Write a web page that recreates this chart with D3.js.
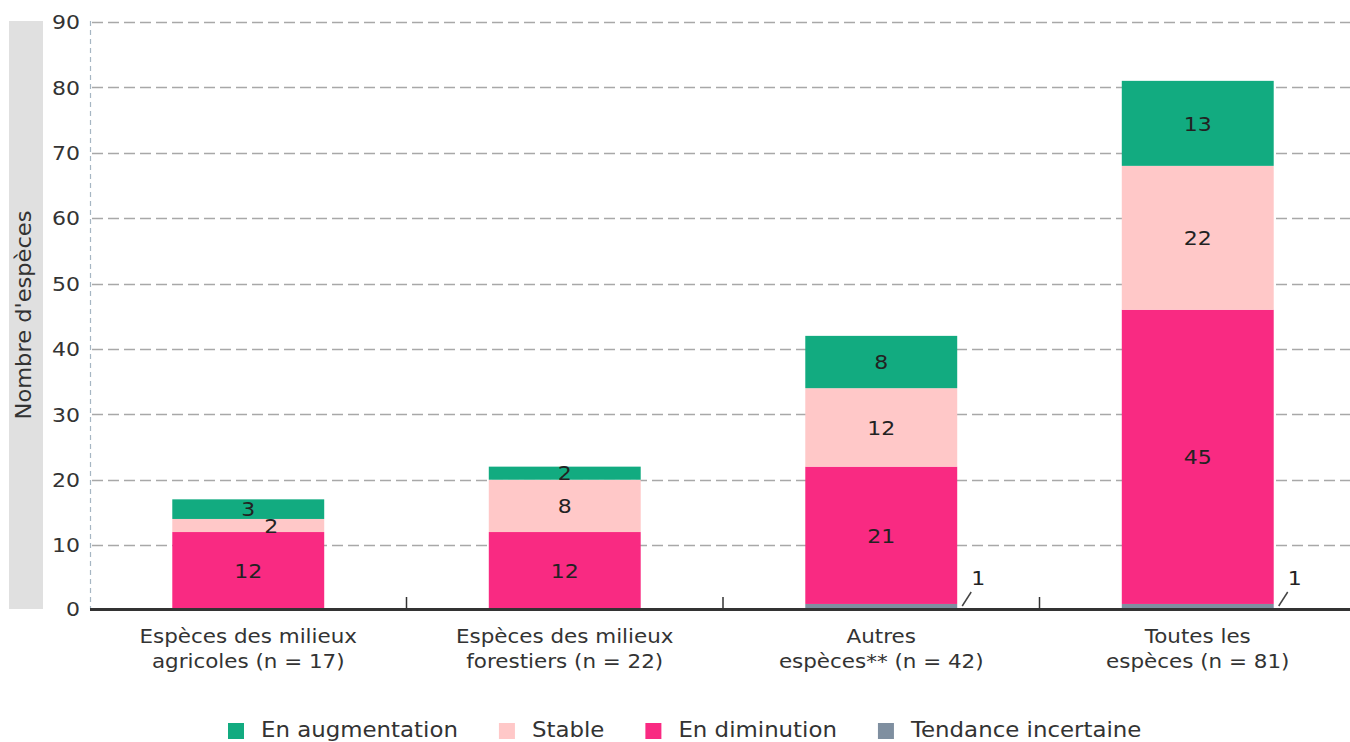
<!DOCTYPE html>
<html>
<head>
<meta charset="utf-8">
<script src="https://cdn.jsdelivr.net/npm/d3@7"></script>
<style>
  body { margin: 0; background: #fff; }
  text { font-family: "DejaVu Sans", sans-serif; }
</style>
</head>
<body>
<script>
// categories and series
var categories = [
  ["Espèces des milieux", "agricoles (n = 17)"],
  ["Espèces des milieux", "forestiers (n = 22)"],
  ["Autres", "espèces** (n = 42)"],
  ["Toutes les", "espèces (n = 81)"]
];
var incertaine = [0, 0, 1, 1];
var diminution = [12, 12, 21, 45];
var stable = [2, 8, 12, 22];
var augmentation = [3, 2, 8, 13];
var yTicks = [0, 10, 20, 30, 40, 50, 60, 70, 80, 90];

var series = [
  { name: "Tendance incertaine", values: incertaine, color: "#7f8fa0" },
  { name: "En diminution", values: diminution, color: "#f92a82" },
  { name: "Stable", values: stable, color: "#ffc8c8" },
  { name: "En augmentation", values: augmentation, color: "#12ab80" }
];
var legendOrder = ["En augmentation", "Stable", "En diminution", "Tendance incertaine"];

var W = 1350, H = 742;
var SX = 1.1; // glyphs in the original are a bit wider
var svg = d3.select("body").append("svg")
    .attr("width", W)
    .attr("height", H);

// text helper: stretched horizontally around its anchor
function label(parent, x, y, str, size, anchor, rot) {
  var g = parent.append("g")
      .attr("transform", "translate(" + x + "," + y + ")" + (rot ? " rotate(" + rot + ")" : "") + " scale(" + SX + ",1)");
  var t = g.append("text")
      .attr("text-anchor", anchor || "middle")
      .attr("font-size", size)
      .attr("fill", "#333")
      .text(str);
  return t;
}

var keys = categories.map(function (d, i) { return "c" + i; });

var x = d3.scaleBand()
    .domain(keys)
    .range([90, 1356])
    .paddingInner(0.52)
    .paddingOuter(0.26);

var y = d3.scaleLinear()
    .domain([0, 90])
    .range([610.5, 22]);

// grey band behind the y title
svg.append("rect")
    .attr("x", 9).attr("y", 21)
    .attr("width", 34).attr("height", 588)
    .attr("fill", "#e0e0e0");

label(svg, 24, 315, "Nombre d'espèces", 20.5, "middle", -90).attr("dy", "0.36em");

// grid lines
svg.append("g").selectAll("line")
    .data(yTicks.filter(function (d) { return d > 0; }))
    .enter().append("line")
    .attr("x1", 92).attr("x2", W)
    .attr("y1", function (d) { return Math.round(y(d)) + 0.5; })
    .attr("y2", function (d) { return Math.round(y(d)) + 0.5; })
    .attr("stroke", "#a8a8a8")
    .attr("stroke-width", 1.5)
    .attr("stroke-dasharray", "11,5");

// y axis: dashed line + labels
svg.append("line")
    .attr("x1", 90.5).attr("x2", 90.5)
    .attr("y1", 21).attr("y2", 609)
    .attr("stroke", "#a6b6c3")
    .attr("stroke-width", 1.2)
    .attr("stroke-dasharray", "5,4");

yTicks.forEach(function (v) {
  label(svg, 80, Math.min(y(v), 609), v, 20, "end").attr("dy", "0.36em");
});

// stacked bars
var stackData = keys.map(function (k, i) {
  var o = { key: k };
  series.forEach(function (s) { o[s.name] = s.values[i]; });
  return o;
});
var stack = d3.stack().keys(series.map(function (s) { return s.name; }));
var layers = stack(stackData);

var layerG = svg.append("g").selectAll("g")
    .data(layers)
    .enter().append("g")
    .attr("fill", function (d, i) { return series[i].color; });

layerG.selectAll("rect")
    .data(function (d) { return d; })
    .enter().append("rect")
    .attr("x", function (d) { return x(d.data.key); })
    .attr("width", x.bandwidth())
    .attr("y", function (d) { return y(d[1]); })
    .attr("height", function (d) { return y(d[0]) - y(d[1]); });

// value labels inside segments (skip the uncertain layer)
layers.forEach(function (layer, li) {
  if (li === 0) return;
  layer.forEach(function (d, i) {
    var v = d[1] - d[0];
    if (v <= 0) return;
    var h = y(d[0]) - y(d[1]);
    var next = layers[li + 1] ? layers[li + 1][i] : null;
    var nextH = next ? y(next[0]) - y(next[1]) : 0;
    var dx = (h < 15 && nextH > 0 && nextH < 25) ? 23 : 0;
    label(svg, x(d.data.key) + x.bandwidth() / 2 + dx, (y(d[0]) + y(d[1])) / 2, v, 20, "middle")
        .attr("dy", "0.36em")
        .attr("fill", "#222");
  });
});

// uncertain labels with leader slash
incertaine.forEach(function (v, i) {
  if (v <= 0) return;
  var x0 = x(keys[i]) + x.bandwidth();
  svg.append("line")
      .attr("x1", x0 + 5).attr("y1", 606)
      .attr("x2", x0 + 14).attr("y2", 592)
      .attr("stroke", "#444")
      .attr("stroke-width", 1.5);
  label(svg, x0 + 21, 578, v, 20, "middle")
      .attr("dy", "0.36em")
      .attr("fill", "#222");
});

// x axis line and group ticks
svg.append("line")
    .attr("x1", 90).attr("x2", W)
    .attr("y1", 609.5).attr("y2", 609.5)
    .attr("stroke", "#333")
    .attr("stroke-width", 3);

var step = x.step();
svg.append("g").selectAll("line")
    .data(keys.slice(1))
    .enter().append("line")
    .attr("x1", function (k) { return x(k) - step * x.paddingInner() / 2; })
    .attr("x2", function (k) { return x(k) - step * x.paddingInner() / 2; })
    .attr("y1", 597).attr("y2", 609)
    .attr("stroke", "#333")
    .attr("stroke-width", 1.5);

// category labels
categories.forEach(function (lines, i) {
  lines.forEach(function (line, j) {
    label(svg, x(keys[i]) + x.bandwidth() / 2, 643 + j * 25, line, 19.5, "middle");
  });
});

// legend
var lx = 228;
legendOrder.forEach(function (name) {
  var s = series.filter(function (d) { return d.name === name; })[0];
  svg.append("rect")
      .attr("x", lx).attr("y", 723)
      .attr("width", 16).attr("height", 16)
      .attr("fill", s.color);
  var t = label(svg, lx + 33, 737, name, 20.8, "start");
  lx += 33 + t.node().getComputedTextLength() * SX + 41;
});
</script>
</body>
</html>
